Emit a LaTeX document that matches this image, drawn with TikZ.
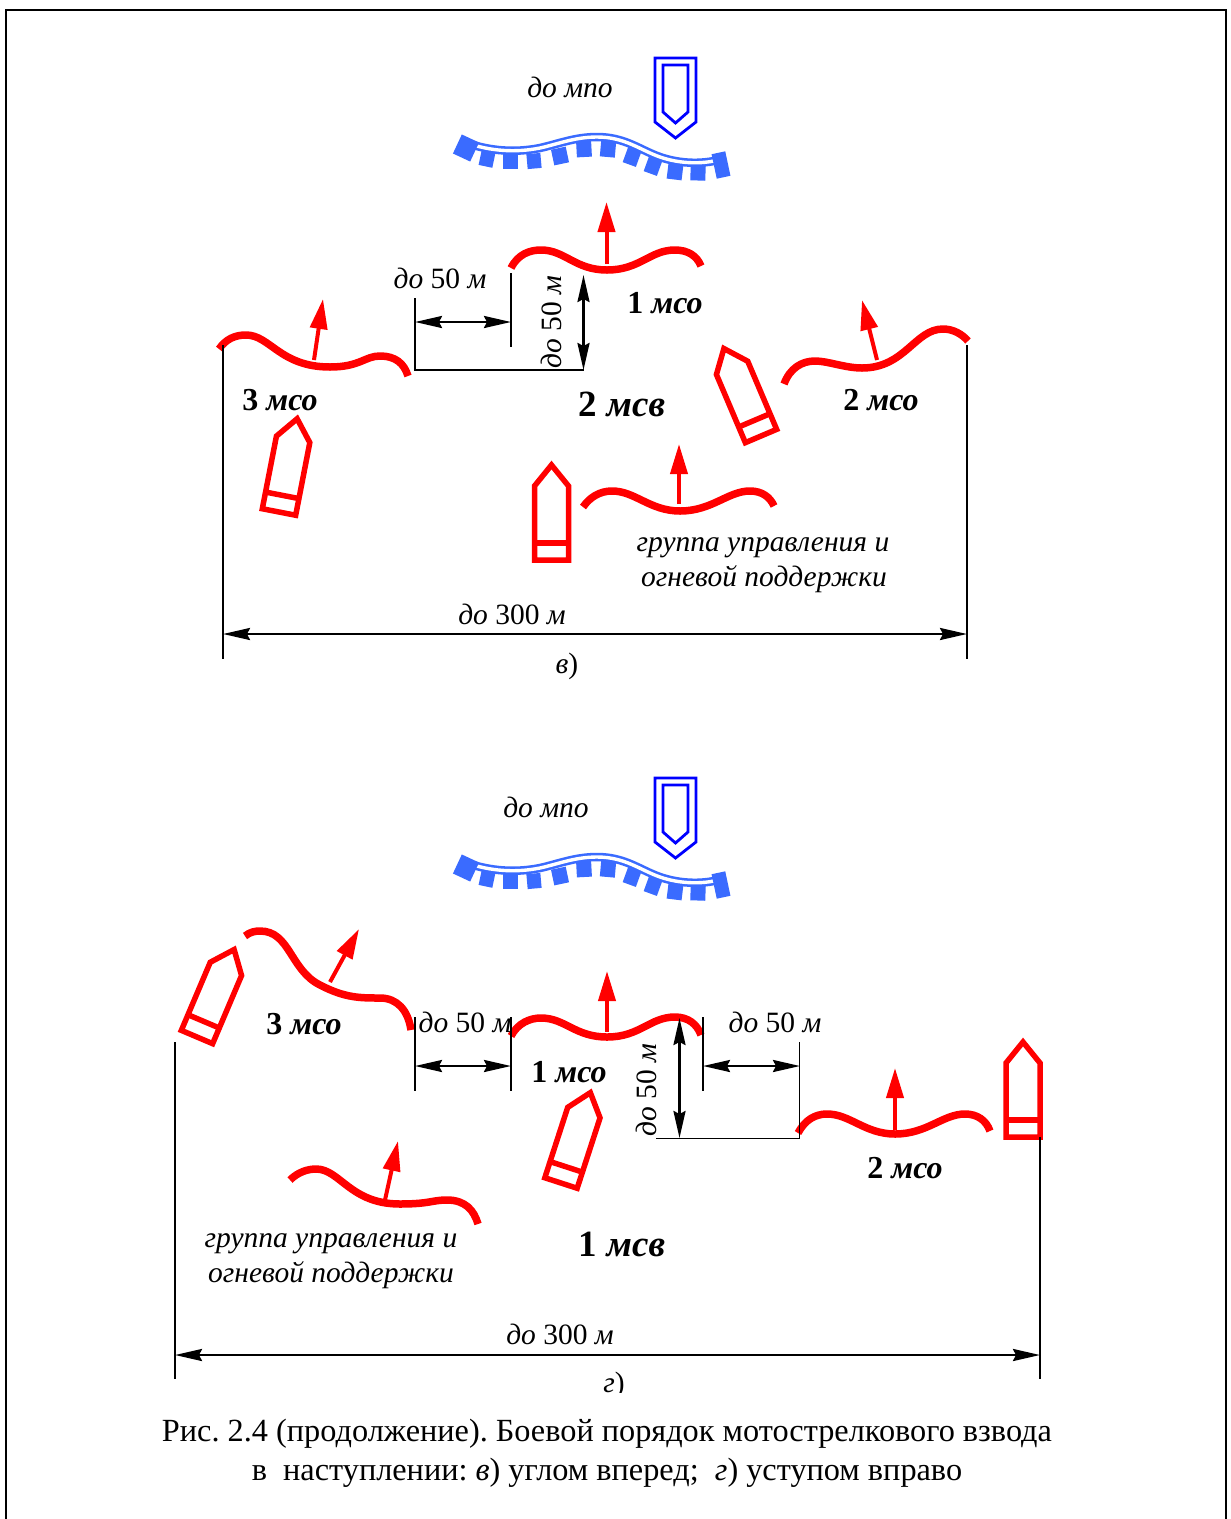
\documentclass[tikz,border=0pt]{standalone}
\usepackage{fontspec}
\setmainfont{Liberation Serif}
\usetikzlibrary{arrows.meta}
\definecolor{enemyblue}{RGB}{58,107,255}
\tikzset{
  wave/.style={draw=red,line width=7.5pt,line cap=butt,line join=round},
  advance/.style={draw=red,line width=4pt,-{Triangle[length=30pt,width=17pt]}},
  vehicle/.style={draw=red,line width=5.5pt,line join=miter},
  dimline/.style={draw=black,line width=1.8pt},
  dimarrow/.style={draw=black,line width=2.6pt,{Stealth[length=27pt,width=12pt,inset=3pt]}-{Stealth[length=27pt,width=12pt,inset=3pt]}},
  lbl/.style={font=\fontsize{29.5}{29.5}\selectfont\itshape,inner sep=0pt,text=black},
  unitlbl/.style={font=\fontsize{32}{32}\selectfont\bfseries\itshape,inner sep=0pt},
  biglbl/.style={font=\fontsize{37}{37}\selectfont\bfseries\itshape,inner sep=0pt},
  caplbl/.style={font=\fontsize{32.3}{32.3}\selectfont,inner sep=0pt},
}
\frenchspacing
\newcommand{\upnum}[1]{{\upshape\bfseries #1}}
\newcommand{\plainnum}[1]{{\upshape #1}}
% red vehicle symbol: origin at the middle of the base
\newcommand{\redveh}[3]{%
  \begin{scope}[shift={(#1,#2)},rotate=#3]
    \draw[vehicle] (-17,0) -- (-17,-74) -- (0,-95) -- (17,-74) -- (17,0) -- cycle;
    \draw[vehicle] (-17,-17) -- (17,-17);
  \end{scope}}
% one trench trace
\newcommand{\trenchpath}{(467,143) .. controls (490,151) and (515,153) .. (540,148) .. controls (558,144) and (575,137) .. (597,137) .. controls (625,137) and (640,150) .. (660,157) .. controls (680,164) and (705,165) .. (725,158)}
% blue trench and blue vehicle
\newcommand{\bluegroup}{%
  \draw[enemyblue,line width=8.5pt] \trenchpath;
  \draw[white,line width=3.4pt] \trenchpath;
  \foreach \x/\y/\a/\w/\h in {466/148/-25/19/21, 487/159/-12/14/15, 510/161/0/15/15, 534/161/5/14/15, 560/156/12/15/16, 584/149/3/15/16, 608/149/-5/15/16, 632/157/-20/14/16, 653/166/-20/14/16, 675/172/-7/15/15, 698/173/-2/15/15, 721/165/12/14/25}
    {\fill[enemyblue,shift={(\x,\y)},rotate=\a] ({-\w/2},{-\h/2}) rectangle ({\w/2},{\h/2});}
  \draw[blue,line width=2.8pt] (655,58) -- (696,58) -- (696,122) -- (675.5,138) -- (655,122) -- cycle;
  \draw[blue,line width=2.8pt] (663,65) -- (688,65) -- (688,112) -- (675.5,123) -- (663,112) -- cycle;
}
\begin{document}
\begin{tikzpicture}[x=1pt,y=-1pt]
\useasboundingbox (0,0) rectangle (1231,1519);
\fill[white] (0,0) rectangle (1231,1519);
\draw[black,line width=2pt] (6,1519) -- (6,9.5) -- (1226,9.5) -- (1226,1519);

% ---------- variant v ----------
\bluegroup
\node[lbl] (vmpo) at (570,87) {до мпо};

\draw[wave] (511,268) .. controls (518,254) and (530,250) .. (541,250) .. controls (565,250) and (575,270) .. (607,270) .. controls (640,270) and (650,250) .. (675,250) .. controls (688,250) and (697,256) .. (701,266);
\draw[wave] (219,349) .. controls (226,339) and (235,335) .. (246,335) .. controls (270,335) and (280,367) .. (330,367) .. controls (360,367) and (365,356) .. (380,356) .. controls (395,356) and (404,363) .. (408,376);
\draw[wave] (784,384) .. controls (790,368) and (802,361) .. (815,361) .. controls (828,361) and (845,368) .. (862,368) .. controls (905,368) and (915,329) .. (943,329) .. controls (953,329) and (962,334) .. (968,341);
\draw[wave] (583,507) .. controls (590,497) and (600,491) .. (612,491) .. controls (635,491) and (650,511) .. (680,511) .. controls (712,511) and (728,491) .. (750,491) .. controls (762,491) and (770,497) .. (774,506);

\coordinate (va1s) at (606.5,264); \coordinate (va1e) at (606.5,202);
\coordinate (va3s) at (314,360);  \coordinate (va3e) at (323,299);
\coordinate (va2s) at (877,360);  \coordinate (va2e) at (862,300);
\coordinate (vags) at (679,504);  \coordinate (vage) at (679,444);
\foreach \s/\e in {va1s/va1e,va3s/va3e,va2s/va2e,vags/vage} {\draw[advance] (\s) -- (\e);}

\redveh{279}{512}{-11}
\redveh{761}{436}{23}
\redveh{551.5}{560}{0}

\coordinate (vL1) at (223,345); \coordinate (vL2) at (223,659);
\coordinate (vR1) at (967,345); \coordinate (vR2) at (967,659);
\coordinate (vLa) at (223,634); \coordinate (vRa) at (967,634);
\draw[dimline] (vL1) -- (vL2);
\draw[dimline] (vR1) -- (vR2);
\draw[dimarrow] (vLa) -- (vRa);
\coordinate (vb1) at (415,298); \coordinate (vb2) at (415,370); \coordinate (vb3) at (584,370);
\draw[dimline] (vb1) -- (vb2) -- (vb3);
\coordinate (vt1) at (511,273); \coordinate (vt2) at (511,347);
\draw[dimline] (vt1) -- (vt2);
\coordinate (vha) at (415,322); \coordinate (vhb) at (511,322);
\draw[dimarrow] (vha) -- (vhb);
\coordinate (vva) at (583.5,275); \coordinate (vvb) at (583.5,370);
\draw[dimarrow] (vva) -- (vvb);

\node[lbl] (v50a) at (440,278) {до \plainnum{50} м};
\node[lbl,rotate=90] (v50b) at (551,322) {до \plainnum{50} м};
\node[unitlbl] (v1) at (665,303) {\upnum{1} мсо};
\node[unitlbl] (v3) at (280,400) {\upnum{3} мсо};
\node[unitlbl] (v2) at (881,400) {\upnum{2} мсо};
\node[biglbl] (vmsv) at (622,404) {\upnum{2} мсв};
\node[lbl] (vg1) at (763,548) {группа управления и};
\node[lbl] (vg2) at (764,579) {огневой поддержки};
\node[lbl] (v300) at (512,614) {до \plainnum{300} м};
\node[lbl] (vcap) at (567,666) {в\plainnum{)}};

% ---------- variant g ----------
\begin{scope}[shift={(0,720)}]
\bluegroup
\end{scope}
\node[lbl] (gmpo) at (546,807) {до мпо};

\draw[wave] (245,936) .. controls (250,932) and (255,931) .. (260,931) .. controls (290,931) and (290,970) .. (320,985) .. controls (345,998) and (360,998) .. (380,998) .. controls (397,998) and (408,1010) .. (411,1030);
\draw[wave] (511,1036) .. controls (518,1023) and (530,1018) .. (541,1018) .. controls (565,1018) and (575,1037) .. (607,1037) .. controls (640,1037) and (650,1017) .. (675,1017) .. controls (688,1017) and (697,1024) .. (701,1035);
\draw[wave] (798,1133) .. controls (805,1120) and (815,1114) .. (827,1114) .. controls (850,1114) and (865,1134) .. (895,1134) .. controls (927,1134) and (943,1114) .. (965,1114) .. controls (977,1114) and (986,1120) .. (990,1131);
\draw[wave] (290,1180) .. controls (298,1172) and (308,1169) .. (316,1169) .. controls (340,1169) and (350,1204) .. (400,1204) .. controls (430,1204) and (432,1200) .. (447,1200) .. controls (465,1200) and (474,1210) .. (478,1224);

\coordinate (ga3s) at (330,982);  \coordinate (ga3e) at (359,929);
\coordinate (ga1s) at (607,1032); \coordinate (ga1e) at (607,971);
\coordinate (ga2s) at (895,1130); \coordinate (ga2e) at (895,1068);
\coordinate (gags) at (385,1200); \coordinate (gage) at (398,1141);
\foreach \s/\e in {ga3s/ga3e,ga1s/ga1e,ga2s/ga2e,gags/gage} {\draw[advance] (\s) -- (\e);}

\redveh{197}{1037}{-23}
\redveh{561}{1183}{-18}
\redveh{1023}{1137}{0}

\coordinate (gL1) at (175,1042); \coordinate (gL2) at (175,1379);
\coordinate (gR1) at (1040,1137); \coordinate (gR2) at (1040,1379);
\coordinate (gLa) at (175,1355); \coordinate (gRa) at (1040,1355);
\draw[dimline] (gL1) -- (gL2);
\draw[dimline] (gR1) -- (gR2);
\draw[dimarrow] (gLa) -- (gRa);
\coordinate (gt1) at (415,1017); \coordinate (gt2) at (415,1091);
\coordinate (gt3) at (511,1017); \coordinate (gt4) at (511,1091);
\coordinate (gt5) at (703,1017); \coordinate (gt6) at (703,1091);
\coordinate (gt7) at (799.5,1042); \coordinate (gt8) at (799.5,1138.5);
\coordinate (gt9) at (656,1138.5);
\draw[dimline] (gt1) -- (gt2);
\draw[dimline] (gt3) -- (gt4);
\draw[dimline] (gt5) -- (gt6);
\draw[dimline] (gt7) -- (gt8) -- (gt9);
\coordinate (gh1) at (415,1066); \coordinate (gh2) at (511,1066);
\coordinate (gh3) at (703,1066); \coordinate (gh4) at (800,1066);
\coordinate (gv1) at (679.5,1018); \coordinate (gv2) at (679.5,1138);
\draw[dimarrow] (gh1) -- (gh2);
\draw[dimarrow] (gh3) -- (gh4);
\draw[dimarrow] (gv1) -- (gv2);

\node[lbl] (g50a) at (465,1022) {до \plainnum{50} м};
\node[lbl] (g50b) at (775,1022) {до \plainnum{50} м};
\node[lbl,rotate=90] (g50c) at (646,1090) {до \plainnum{50} м};
\node[unitlbl] (g3) at (304,1024) {\upnum{3} мсо};
\node[unitlbl] (g1) at (569,1072) {\upnum{1} мсо};
\node[unitlbl] (g2) at (905,1168) {\upnum{2} мсо};
\node[biglbl] (gmsv) at (622,1244) {\upnum{1} мсв};
\node[lbl] (gg1) at (331,1244) {группа управления и};
\node[lbl] (gg2) at (331,1275) {огневой поддержки};
\node[lbl] (g300) at (560,1334) {до \plainnum{300} м};
\node[lbl] (gcap) at (614,1385) {г\plainnum{)}};
\fill[white] (560,1393) rectangle (680,1410);

\node[caplbl] (cap1) at (607,1434) {Рис. 2.4 (продолжение). Боевой порядок мотострелкового взвода};
\node[caplbl] (cap2) at (607,1473) {в\ \ наступлении: \textit{в}) углом вперед;\ \ \textit{г}) уступом вправо};
\end{tikzpicture}
\end{document}
